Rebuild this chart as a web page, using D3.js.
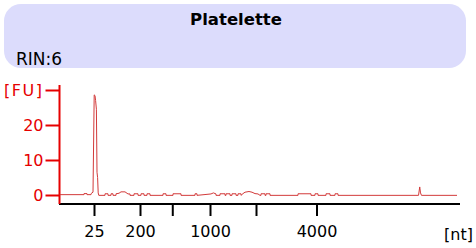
<!DOCTYPE html>
<html>
<head>
<meta charset="utf-8">
<script src="https://cdn.jsdelivr.net/npm/d3@7"></script>
<style>
body { margin: 0; background: #fff; }
svg { display: block; font-family: "DejaVu Sans", Verdana, sans-serif; }
</style>
</head>
<body>
<svg id="chart" width="476" height="248"></svg>
<script>
var title = "Platelette";
var rinLabel = "RIN:6";

// ladder sizes (nt) and their migration times (s)
var ladderNt = [25, 200, 500, 1000, 2000, 4000];
var ladderTime = [24.375, 30.125, 34.16, 38.875, 44.625, 52.19];
var labelledNt = [25, 200, 1000, 4000];

var fuTicks = [0, 10, 20, 30];

// electropherogram trace: time (s) and fluorescence (FU)
var traceTime = [20.1, 23.125, 23.125, 23.5, 23.5, 24.0, 24.05, 24.25, 24.4, 24.5, 24.575, 24.675, 24.75, 24.825, 24.9, 24.975,
    25.75, 25.75, 26.125, 26.125, 26.5, 26.5, 26.75, 26.75, 27.125, 27.125,
    27.5, 27.75, 28.25, 28.5, 28.625, 28.875, 28.875,
    29.375, 29.375, 29.875, 29.875, 30.25, 30.25, 30.625, 30.625, 31.0, 31.0, 31.375, 31.375,
    33.0, 33.0, 33.375, 33.375, 34.25, 34.25, 35.25, 35.25, 37.0, 37.0, 37.25, 37.25,
    39.0, 39.3, 39.625, 39.625, 40.125, 40.125, 40.75, 40.75, 40.875, 40.875, 41.375, 41.375,
    41.625, 41.625, 42.125, 42.125, 42.375, 42.375, 42.75, 42.75,
    43.0, 43.25, 43.75, 44.125, 44.5, 44.875, 45.125,
    45.25, 45.25, 45.75, 45.75, 45.875, 45.875, 46.375, 46.375,
    49.875, 49.875, 51.5, 51.5, 52.0, 52.0, 52.375, 52.375, 53.375, 53.375, 53.875, 53.875, 54.5, 54.5, 54.875, 54.875,
    64.94, 65.09, 65.19, 65.31, 69.75];
var traceFU = [0.1, 0.1, 0.4, 0.4, 0.1, 0.1, 0.5, 0.8, 28.6, 28.4, 27.0, 24.5, 6.5, 5.0, 0.6, -0.1,
    -0.1, 0.35, 0.35, -0.1, -0.1, 0.35, 0.35, -0.1, -0.1, 0.35,
    0.5, 0.9, 0.9, 0.5, 0.3, 0.3, -0.1,
    -0.1, 0.35, 0.35, -0.1, -0.1, 0.35, 0.35, -0.1, -0.1, 0.35, 0.35, -0.1,
    -0.1, 0.35, 0.35, -0.1, -0.1, 0.35, 0.35, -0.1, -0.1, 0.35, 0.35, -0.1,
    0.3, 0.6, 0.3, -0.1, -0.1, 0.35, 0.35, -0.1, -0.1, 0.35, 0.35, -0.1,
    -0.1, 0.35, 0.35, -0.1, -0.1, 0.35, 0.35, -0.1,
    0.4, 0.8, 1.0, 0.8, 0.4, 0.3, -0.1,
    -0.1, 0.35, 0.35, -0.1, -0.1, 0.35, 0.35, -0.1,
    -0.1, 0.35, 0.35, -0.1, -0.1, 0.35, 0.35, -0.1, -0.1, 0.35, 0.35, -0.1, -0.1, 0.35, 0.35, -0.1,
    -0.1, 2.3, 0.6, -0.1, -0.1];

var svg = d3.select("#chart");

// header box
svg.append("rect")
    .attr("x", 4).attr("y", 4).attr("width", 462).attr("height", 64)
    .attr("rx", 17).attr("ry", 17)
    .style("fill", "#dcdcfc");
svg.append("text")
    .attr("x", 236).attr("y", 25)
    .attr("text-anchor", "middle")
    .style("font-size", "16.5px").style("font-weight", "bold")
    .text(title);
svg.append("text")
    .attr("x", 16).attr("y", 65)
    .style("font-size", "17px")
    .text(rinLabel);

var x = d3.scaleLinear().domain([20, 70]).range([59, 459]);
var y = d3.scaleLinear().domain([0, 30]).range([195, 90]);

var red = "#e60000";

// x axis (black)
var xAxis = d3.axisBottom(x)
    .tickValues(ladderTime)
    .tickSize(12)
    .tickPadding(10)
    .tickFormat(function (d, i) {
        return labelledNt.indexOf(ladderNt[i]) >= 0 ? ladderNt[i] : "";
    });
var gx = svg.append("g").attr("transform", "translate(0,204)").call(xAxis);
gx.select(".domain").remove();
gx.append("line")
    .attr("x1", 59).attr("x2", 460).attr("y1", 0).attr("y2", 0)
    .style("stroke", "#000").style("stroke-width", 2);
gx.selectAll(".tick line").style("stroke", "#000").style("stroke-width", 2);
gx.selectAll(".tick text")
    .style("font-size", "16px").style("fill", "#000")
    .style("font-family", "DejaVu Sans, Verdana, sans-serif");

svg.append("text")
    .attr("x", 473).attr("y", 240)
    .attr("text-anchor", "end")
    .style("font-size", "16px")
    .text("[nt]");

// y axis (red)
var yAxis = d3.axisLeft(y)
    .tickValues(fuTicks)
    .tickSize(14)
    .tickPadding(2)
    .tickFormat(function (d) { return d == 30 ? "[FU]" : d; });
var gy = svg.append("g").attr("transform", "translate(59.5,0)").call(yAxis);
gy.select(".domain").remove();
gy.append("line")
    .attr("x1", 0).attr("x2", 0).attr("y1", 85).attr("y2", 204)
    .style("stroke", red).style("stroke-width", 2);
gy.selectAll(".tick line").style("stroke", red).style("stroke-width", 2);
gy.selectAll(".tick text")
    .style("font-size", "16px").style("fill", red)
    .style("font-family", "DejaVu Sans, Verdana, sans-serif");
gy.selectAll(".tick text")
    .filter(function (d) { return d == 30; })
    .style("letter-spacing", "1.5px");

// trace
var pts = traceTime.map(function (t, i) { return [t, traceFU[i]]; });
var line = d3.line()
    .x(function (d) { return x(d[0]); })
    .y(function (d) { return y(d[1]); });
svg.append("path")
    .datum(pts)
    .attr("d", line)
    .style("fill", "none")
    .style("stroke", "#d23a3a")
    .style("stroke-width", 1);
</script>
</body>
</html>
